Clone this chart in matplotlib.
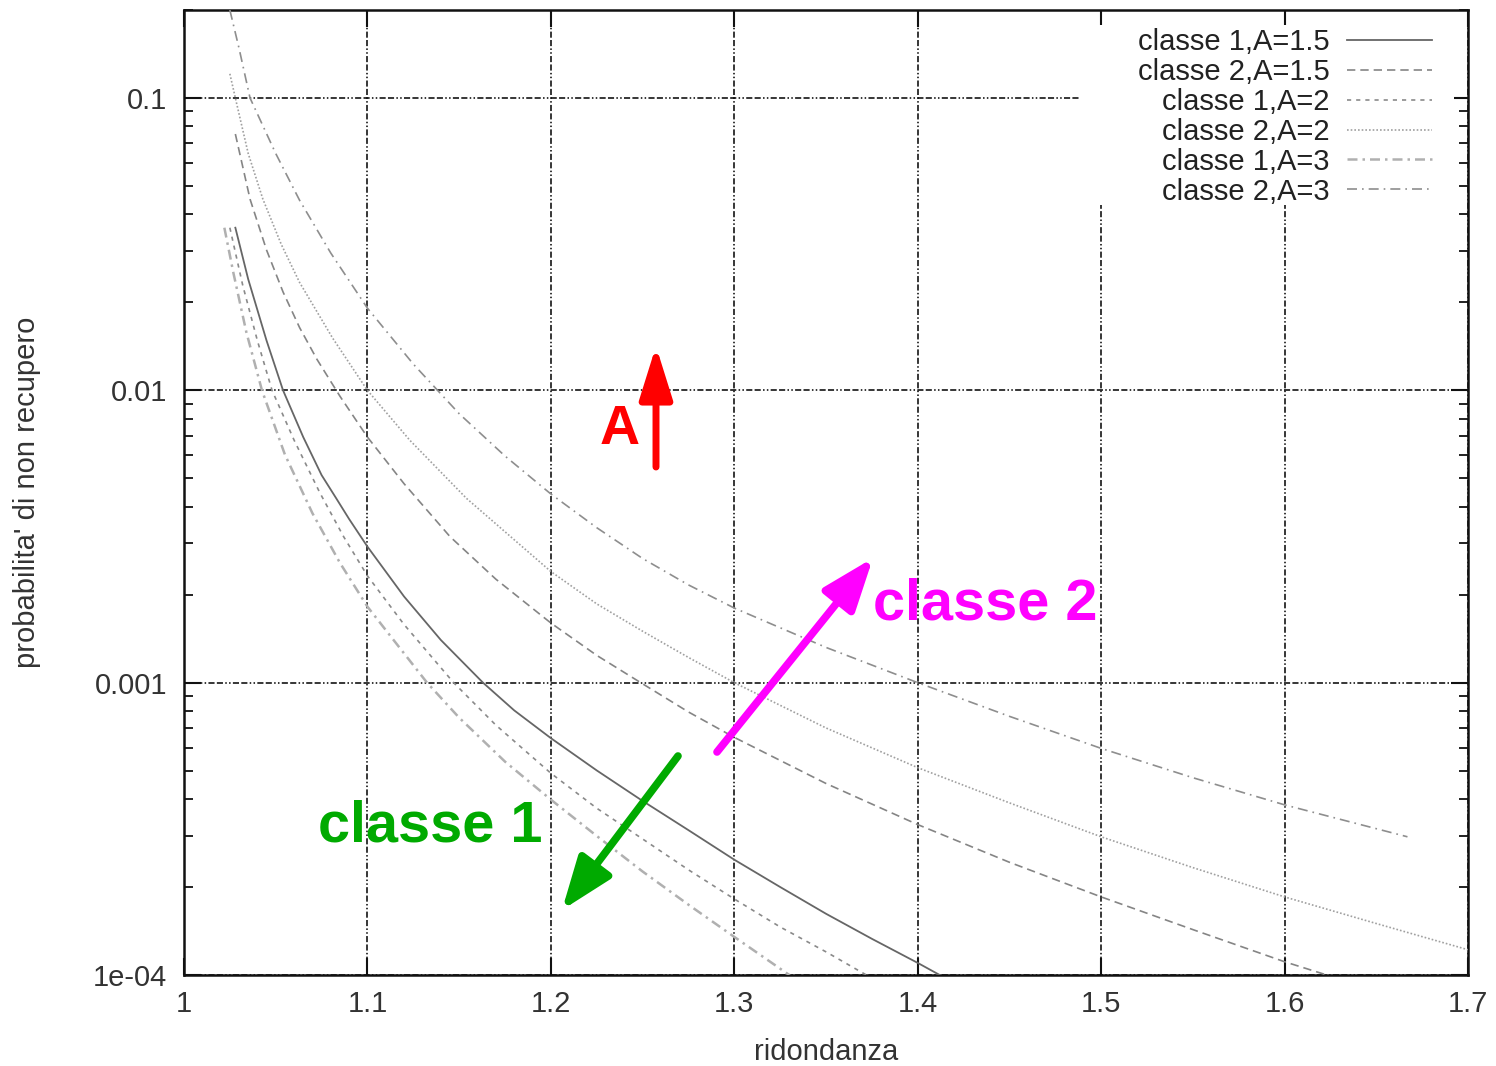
import matplotlib
matplotlib.use('Agg')
import matplotlib.pyplot as plt
from matplotlib.patches import Rectangle

plt.rcParams['font.family'] = ['Liberation Sans', 'DejaVu Sans']

# ---------------- data ----------------
labels = ['classe 1,A=1.5', 'classe 2,A=1.5', 'classe 1,A=2',
          'classe 2,A=2', 'classe 1,A=3', 'classe 2,A=3']

c1_a15_x = [1.028, 1.035, 1.045, 1.054, 1.065, 1.075, 1.083, 1.090, 1.100, 1.120, 1.140,
            1.163, 1.180, 1.200, 1.225, 1.250, 1.275, 1.300, 1.325, 1.350, 1.375, 1.400, 1.412]
c1_a15_y = [0.036, 0.024, 0.0148, 0.010, 0.00692, 0.00513, 0.00427, 0.00363, 0.00292, 0.00197, 0.0014,
            0.0010, 8.04e-4, 6.46e-4, 5.01e-4, 3.94e-4, 3.13e-4, 2.48e-4, 2.0e-4, 1.62e-4, 1.33e-4, 1.1e-4, 1.0e-4]

c2_a15_x = [1.028, 1.036, 1.045, 1.054, 1.063, 1.0725, 1.085, 1.100, 1.120, 1.145, 1.170, 1.200,
            1.225, 1.249, 1.275, 1.300, 1.350, 1.400, 1.450, 1.500, 1.550, 1.600, 1.623]
c2_a15_y = [0.0753, 0.0451, 0.0302, 0.0217, 0.0164, 0.01276, 0.00955, 0.00692, 0.00479, 0.00316, 0.00226, 0.0016,
            0.00124, 0.0010, 7.94e-4, 6.5e-4, 4.52e-4, 3.27e-4, 2.43e-4, 1.85e-4, 1.43e-4, 1.11e-4, 1.0e-4]

c1_a2_x = [1.025, 1.032, 1.040, 1.048, 1.060, 1.074, 1.087, 1.100, 1.120, 1.147, 1.170, 1.200,
           1.225, 1.250, 1.275, 1.300, 1.325, 1.350, 1.372]
c1_a2_y = [0.036, 0.0229, 0.0148, 0.010, 0.00676, 0.00447, 0.00316, 0.00232, 0.00158, 0.0010, 7.16e-4, 4.9e-4,
           3.72e-4, 2.92e-4, 2.29e-4, 1.82e-4, 1.46e-4, 1.2e-4, 1.0e-4]

c2_a2_x = [1.025, 1.028, 1.035, 1.043, 1.053, 1.063, 1.081, 1.100, 1.123, 1.154, 1.200, 1.225,
           1.250, 1.275, 1.300, 1.350, 1.400, 1.450, 1.500, 1.550, 1.600, 1.650, 1.700]
c2_a2_y = [0.121, 0.10, 0.0646, 0.0451, 0.0316, 0.0234, 0.0151, 0.010, 0.00676, 0.00427, 0.0024, 0.00186,
           0.0015, 0.00122, 0.0010, 7.0e-4, 5.12e-4, 3.88e-4, 2.97e-4, 2.33e-4, 1.85e-4, 1.5e-4, 1.22e-4]

c1_a3_x = [1.022, 1.027, 1.034, 1.0425, 1.055, 1.070, 1.085, 1.100, 1.115, 1.1325, 1.150, 1.175,
           1.200, 1.225, 1.250, 1.275, 1.300, 1.330]
c1_a3_y = [0.036, 0.0251, 0.0158, 0.010, 0.00603, 0.0038, 0.00257, 0.00182, 0.00138, 0.0010, 7.59e-4, 5.37e-4,
           3.98e-4, 2.99e-4, 2.26e-4, 1.74e-4, 1.35e-4, 1.0e-4]

c2_a3_x = [1.025, 1.030, 1.036, 1.050, 1.063, 1.080, 1.100, 1.125, 1.150, 1.175, 1.200, 1.225,
           1.250, 1.275, 1.300, 1.350, 1.400, 1.450, 1.500, 1.550, 1.600, 1.667]
c2_a3_y = [0.20, 0.148, 0.10, 0.0646, 0.0447, 0.0295, 0.0191, 0.0123, 0.00832, 0.00596, 0.00442, 0.00339,
           0.00266, 0.00216, 0.0018, 0.00132, 0.0010, 7.67e-4, 5.96e-4, 4.73e-4, 3.82e-4, 2.97e-4]

x_ticks = [1.0, 1.1, 1.2, 1.3, 1.4, 1.5, 1.6, 1.7]
x_ticklabels = ['1', '1.1', '1.2', '1.3', '1.4', '1.5', '1.6', '1.7']
y_ticks = [1e-4, 1e-3, 1e-2, 1e-1]
y_ticklabels = ['1e-04', '0.001', '0.01', '0.1']

series = [(c1_a15_x, c1_a15_y), (c2_a15_x, c2_a15_y), (c1_a2_x, c1_a2_y),
          (c2_a2_x, c2_a2_y), (c1_a3_x, c1_a3_y), (c2_a3_x, c2_a3_y)]

# ---------------- styles ----------------
styles = [
    dict(color='#666666', lw=1.3, ls='-'),
    dict(color='#858585', lw=1.2, ls=(0, (5, 3))),
    dict(color='#8a8a8a', lw=1.2, ls=(0, (2.5, 3))),
    dict(color='#a0a0a0', lw=1.2, ls=(0, (1, 1.2))),
    dict(color='#b0b0b0', lw=1.8, ls=(0, (4, 2, 1, 2))),
    dict(color='#8e8e8e', lw=1.2, ls=(0, (6, 3, 1, 3))),
]

W, H = 1496, 1066
fig = plt.figure(figsize=(W / 100, H / 100), dpi=100)
ax = fig.add_axes([184 / W, 91 / H, 1284 / W, 965 / H])

handles = []
for (xs, ys), st, lab in zip(series, styles, labels):
    h, = ax.plot(xs, ys, color=st['color'], lw=st['lw'], linestyle=st['ls'], label=lab, zorder=3)
    handles.append(h)

ax.set_yscale('log')
ax.set_xlim(1.0, 1.7)
ax.set_ylim(1e-4, 0.2)
ax.set_xticks(x_ticks)
ax.set_xticklabels(x_ticklabels)
ax.set_yticks(y_ticks)
ax.set_yticklabels(y_ticklabels)

ax.set_axisbelow(True)
ax.grid(True, which='major', color='black', lw=1.1,
        linestyle=(0, (4, 1.5, 4, 1.5, 1, 1.5, 1, 1.5)))
ax.grid(False, which='minor')

for sp in ax.spines.values():
    sp.set_linewidth(1.8)
    sp.set_color('#111111')

ax.tick_params(which='both', direction='in', top=True, right=True, colors='#111111',
               labelcolor='#333333', labelsize=21)
ax.tick_params(which='major', length=12, width=1.5)
ax.tick_params(which='minor', length=6.5, width=1.3)
ax.tick_params(axis='y', which='major', pad=12)
ax.tick_params(axis='x', which='major', pad=11)
ax.tick_params(axis='x', which='minor', bottom=False, top=False)

ax.set_xlabel('ridondanza', fontsize=21, color='#333333')
ax.set_ylabel("probabilita' di non recupero", fontsize=21, color='#333333')
ax.xaxis.set_label_coords(0.5, -0.065)
ax.yaxis.set_label_coords(-0.111, 0.5)

# white key area covering the grid
ax.add_patch(Rectangle((0.698, 0.798), 0.291, 0.1865, transform=ax.transAxes,
                       facecolor='white', edgecolor='none', zorder=1))

leg = ax.legend(handles=handles, loc='upper right', bbox_to_anchor=(0.972, 0.9813),
                frameon=False, markerfirst=False, fontsize=21, labelspacing=0.065,
                handlelength=2.9, handletextpad=0.6, borderpad=0, borderaxespad=0)
for t in leg.get_texts():
    t.set_color('#222222')
    t.set_ha('right')

# ---------------- annotations ----------------
def fp(px, py):
    return (px / W, 1 - py / H)

ax.annotate('', xy=fp(656, 346), xytext=fp(656, 467), xycoords='figure fraction',
            textcoords='figure fraction',
            arrowprops=dict(arrowstyle='-|>,head_length=1.6,head_width=0.5', color='#ff0000',
                            lw=5, mutation_scale=20, shrinkA=0, shrinkB=0))
fig.text(*fp(620, 430), 'A', color='#ff0000', fontsize=40, fontweight='bold',
         ha='center', va='center')

ax.annotate('', xy=fp(873, 558), xytext=fp(717, 752), xycoords='figure fraction',
            textcoords='figure fraction',
            arrowprops=dict(arrowstyle='-|>,head_length=1.6,head_width=0.6', color='#ff00ff',
                            lw=5.5, mutation_scale=20, shrinkA=0, shrinkB=0))
fig.text(*fp(985, 605), 'classe 2', color='#ff00ff', fontsize=41.5, fontweight='bold',
         ha='center', va='center')

ax.annotate('', xy=fp(562, 910), xytext=fp(678, 756), xycoords='figure fraction',
            textcoords='figure fraction',
            arrowprops=dict(arrowstyle='-|>,head_length=1.6,head_width=0.6', color='#00aa00',
                            lw=5.5, mutation_scale=20, shrinkA=0, shrinkB=0))
fig.text(*fp(430, 827), 'classe 1', color='#00aa00', fontsize=41.5, fontweight='bold',
         ha='center', va='center')

fig.savefig('out.png', dpi=100, facecolor='white')
